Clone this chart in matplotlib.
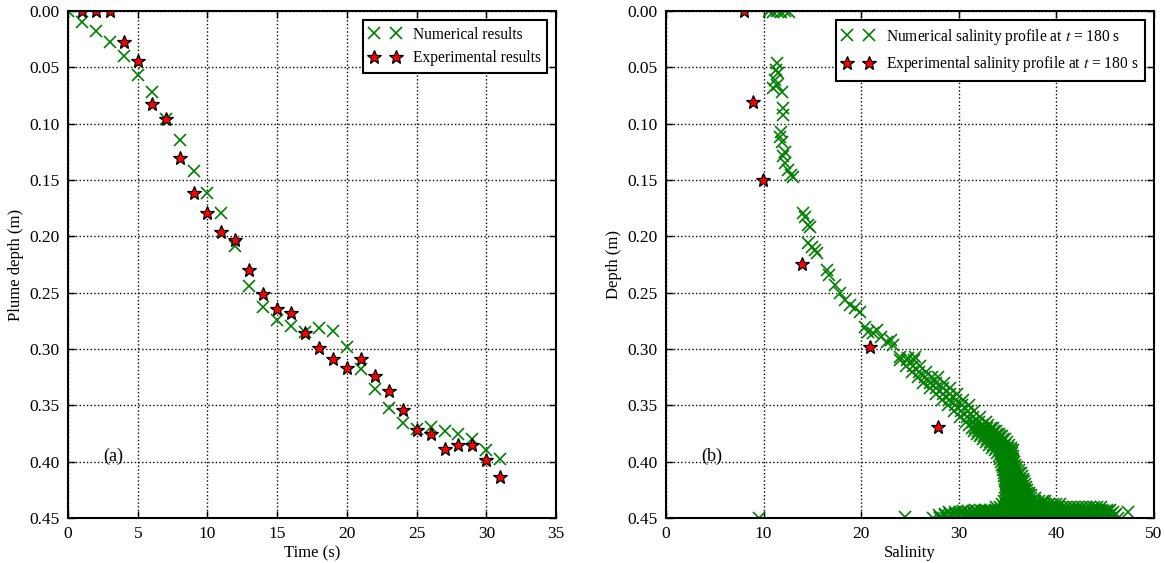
import matplotlib
matplotlib.use("Agg")
import matplotlib.pyplot as plt

plt.rcParams["font.family"] = ["Liberation Serif", "DejaVu Serif"]
plt.rcParams["mathtext.fontset"] = "stix"
plt.rcParams["font.size"] = 11

# (a) plume depth vs time
num_time = list(range(0, 32))
num_depth = [0.0, 0.010, 0.0175, 0.0275, 0.040, 0.057, 0.072, 0.0956, 0.1145, 0.1417,
             0.1615, 0.179, 0.209, 0.244, 0.263, 0.2743, 0.280, 0.285, 0.281, 0.2837,
             0.298, 0.318, 0.3355, 0.3526, 0.3654, 0.371, 0.3696, 0.3728, 0.375, 0.380,
             0.3896, 0.3976]
exp_time = list(range(1, 32))
exp_depth = [0.0, 0.0, 0.0, 0.0275, 0.0444, 0.0825, 0.0956, 0.1305, 0.1615, 0.179,
             0.196, 0.203, 0.230, 0.2515, 0.2645, 0.2683, 0.2855, 0.2994, 0.309, 0.3166,
             0.309, 0.3237, 0.337, 0.354, 0.372, 0.375, 0.3888, 0.385, 0.385, 0.3988,
             0.4133]

# (b) salinity profile at t = 180 s
exp_sal = [8.0, 8.9, 9.9, 13.9, 20.9, 27.9]
exp_sal_depth = [0.0, 0.0805, 0.150, 0.2243, 0.2985, 0.369]

num_sal = []
num_sal_depth = []

# upper part, read point by point
upper = [
    (10.6, 0.0), (11.0, 0.001), (11.4, 0.0), (11.8, 0.001), (12.2, 0.0), (12.6, 0.001),
    (11.34, 0.0464), (11.27, 0.0524), (11.5, 0.0553), (11.17, 0.0612), (11.34, 0.0657),
    (11.0, 0.0686), (11.86, 0.0716),
    (12.0, 0.0864), (11.95, 0.092), (11.8, 0.107), (11.7, 0.1116), (11.85, 0.116),
    (12.2, 0.125), (11.95, 0.129), (12.2, 0.135), (12.5, 0.141), (12.8, 0.1455),
    (13.0, 0.147),
    (14.07, 0.1796), (14.24, 0.1826), (14.58, 0.19), (14.75, 0.1915),
    (14.58, 0.2062), (14.93, 0.2092), (15.27, 0.2121), (15.44, 0.2151),
    (16.5, 0.2299), (16.7, 0.2343), (17.3, 0.2432), (17.8, 0.2506), (18.3, 0.2565),
    (18.85, 0.261), (19.4, 0.264), (19.9, 0.2669), (20.4, 0.2802), (20.7, 0.2846),
    (21.2, 0.286), (21.6, 0.283), (22.0, 0.289), (22.6, 0.2935), (23.1, 0.292),
    (23.3, 0.2965), (24.0, 0.3068), (24.8, 0.3083), (25.5, 0.3068),
    (9.5, 0.45), (24.5, 0.449), (28.1, 0.449), (47.3, 0.4445),
]
for s, d in upper:
    num_sal.append(s)
    num_sal_depth.append(d)

# dense band and bottom cloud, row by row (depth: salinities)
rows = {
    0.310: [24.0, 24.7, 25.4],
    0.315: [24.6, 25.3, 26.0],
    0.320: [25.2, 25.9, 26.6],
    0.325: [25.8, 26.5, 27.2, 27.9],
    0.330: [26.3, 27.0, 27.7, 28.5],
    0.335: [27.0, 27.7, 28.4, 29.1],
    0.340: [27.7, 28.4, 29.1, 29.8],
    0.345: [28.3, 29.0, 29.7, 30.4],
    0.350: [28.9, 29.6, 30.3, 31.0],
    0.355: [29.5, 30.2, 30.9, 31.6],
    0.360: [30.1, 30.8, 31.5, 32.2],
    0.365: [30.7, 31.4, 32.1, 32.8],
    0.3675: [31.0, 31.7, 32.4, 33.0],
    0.3700: [31.3, 31.7, 32.1, 32.5, 32.9, 33.3, 33.5],
    0.3725: [31.6, 32.0, 32.4, 32.8, 33.2, 33.6, 33.8],
    0.3750: [31.9, 32.3, 32.7, 33.1, 33.5, 33.9, 34.1],
    0.3775: [32.2, 32.6, 33.0, 33.4, 33.8, 34.2, 34.4],
    0.3800: [32.5, 32.9, 33.3, 33.7, 34.1, 34.5, 34.7],
    0.3825: [32.8, 33.2, 33.6, 34.0, 34.4, 34.9],
    0.3850: [33.1, 33.5, 33.9, 34.3, 34.7, 35.1],
    0.3875: [33.4, 33.8, 34.2, 34.6, 35.0, 35.3],
    0.3900: [33.7, 34.1, 34.5, 34.9, 35.3, 35.5],
    0.3925: [33.9, 34.3, 34.7, 35.1, 35.4],
    0.3950: [34.1, 34.5, 34.9, 35.3, 35.5],
    0.3975: [34.2, 34.6, 35.0, 35.4, 35.6],
    0.4000: [34.3, 34.7, 35.1, 35.5, 35.7],
    0.4025: [34.4, 34.6, 35.0, 35.4, 35.8],
    0.4050: [34.5, 34.9, 35.3, 35.7, 36.0],
    0.4075: [34.5, 34.7, 35.1, 35.5, 35.9, 36.2],
    0.4100: [34.6, 35.0, 35.4, 35.8, 36.2, 36.4],
    0.4125: [34.6, 34.8, 35.2, 35.6, 36.0, 36.5],
    0.4150: [34.7, 35.1, 35.5, 35.9, 36.3, 36.6],
    0.4175: [34.7, 34.9, 35.3, 35.7, 36.1, 36.5, 36.7],
    0.4200: [34.8, 35.2, 35.6, 36.0, 36.4, 36.8],
    0.4225: [34.8, 35.0, 35.4, 35.8, 36.2, 36.6, 36.9],
    0.4250: [34.8, 35.2, 35.6, 36.0, 36.4, 36.8, 37.0],
    0.4275: [34.8, 35.0, 35.4, 35.8, 36.2, 36.6, 37.0, 37.2],
    0.4300: [34.8, 35.2, 35.6, 36.0, 36.4, 36.8, 37.2, 37.4],
    0.4325: [34.7, 35.0, 35.4, 35.8, 36.2, 36.6, 37.0, 37.4, 37.8],
    0.4350: [34.6, 35.0, 35.4, 35.8, 36.2, 36.6, 37.0, 37.4, 37.8, 38.2, 38.6, 38.8],
    0.4375: [34.4, 34.8, 35.2, 35.6, 36.0, 36.4, 36.8, 37.2, 37.6, 38.0, 38.4, 38.8,
             39.2, 39.6, 40.0, 40.4],
    0.4400: [33.8, 34.2, 34.6, 35.0, 35.4, 35.8, 36.2, 36.6, 37.0, 37.4, 37.8, 38.2,
             38.6, 39.0, 39.4, 39.8, 40.2, 40.6, 41.0, 41.4, 41.8, 42.2, 42.6, 43.0,
             43.4, 43.8, 44.2, 44.6],
    0.4425: [31.7, 32.2, 32.7, 33.2, 33.7, 34.2, 34.7, 35.2, 35.7, 36.2, 36.7, 37.2,
             37.7, 38.2, 38.7, 39.2, 39.7, 40.2, 40.7, 41.2, 41.7, 42.2, 42.7, 43.2,
             43.7, 44.2, 44.7, 45.2, 45.5],
    0.4435: [30.4, 30.9, 31.4, 31.9, 32.4, 32.9, 33.4, 33.9, 34.4, 34.9, 35.4, 35.9,
             36.4, 36.9, 37.4, 37.9, 38.4, 38.9, 39.4, 39.9, 40.4, 40.9, 41.4, 41.9,
             42.4, 42.9, 43.4, 43.9, 44.4, 44.9, 45.4],
    0.445: [29.0, 29.6, 30.2, 30.8, 31.4, 32.0, 32.6, 33.2, 33.8, 34.4, 35.0, 35.6,
            36.2, 36.8, 37.4, 38.0, 38.6, 39.2, 39.8, 40.4, 41.0, 41.6, 42.2, 42.8,
            43.4, 44.0, 44.6, 45.2, 45.8],
    0.4465: [28.6, 29.1, 29.6, 30.1, 30.6, 31.1, 31.6, 32.1, 32.6, 33.1, 33.6, 34.1,
             34.6, 35.1, 35.6, 36.1, 36.6, 37.1, 37.6, 38.1, 38.6, 39.1, 39.6, 40.1,
             40.6, 41.1, 41.6, 42.1, 42.6, 43.1, 43.6, 44.1, 44.6, 45.1, 45.6, 46.1],
    0.4475: [28.0, 28.6, 29.2, 29.8, 30.4, 31.0, 31.6, 32.2, 32.8, 33.4, 34.0, 34.6,
             35.2, 35.8, 36.4, 37.0, 37.6, 38.2, 38.8, 39.4, 40.0, 40.6, 41.2, 41.8,
             42.4, 43.0, 43.6, 44.2, 44.8, 45.4, 46.0],
    0.450: [27.4, 28.1, 28.8, 29.5, 30.2, 30.9, 31.6, 32.3, 33.0, 33.7, 34.4, 35.1,
            35.8, 36.5, 37.2, 37.9, 38.6, 39.3, 40.0, 40.7, 41.4, 42.1, 42.8, 43.5,
            44.2, 44.9, 45.6, 46.3],
}
for d, sals in rows.items():
    for s in sals:
        num_sal.append(s)
        num_sal_depth.append(d)

green = (0, 0.5, 0)
x_style = dict(linestyle="none", marker="x", color=green, markersize=9, markeredgewidth=1.2)
star_style = dict(linestyle="none", marker="*", markerfacecolor="red",
                  markeredgecolor="black", markersize=10, markeredgewidth=0.9)

fig = plt.figure(figsize=(11.65, 5.63), dpi=100)
ax1 = fig.add_axes([0.0584, 0.0799, 0.4189, 0.9005])
ax2 = fig.add_axes([0.5717, 0.0799, 0.4189, 0.9005])


def style_axes(ax):
    for sp in ax.spines.values():
        sp.set_linewidth(1.5)
    ax.tick_params(direction="in", top=True, right=True, length=5, width=1,
                   labelsize=12.5, pad=6)
    ax.grid(True, color="black", linestyle=":", linewidth=1)
    ax.set_ylim(0.45, 0.0)
    ax.set_yticks([0.0, 0.05, 0.1, 0.15, 0.2, 0.25, 0.3, 0.35, 0.4, 0.45])
    ax.set_yticklabels(["0.00", "0.05", "0.10", "0.15", "0.20", "0.25", "0.30",
                        "0.35", "0.40", "0.45"])


ax1.plot(num_time, num_depth, label="Numerical results", **x_style)
ax1.plot(exp_time, exp_depth, label="Experimental results", **star_style)
ax1.set_xlim(0, 35)
style_axes(ax1)
ax1.set_xlabel("Time (s)", fontsize=12, labelpad=2)
ax1.set_ylabel("Plume depth (m)", fontsize=12)
ax1.text(2.5, 0.395, "(a)", fontsize=13, va="center")
leg1 = ax1.legend(loc="upper right", numpoints=2, fancybox=False, framealpha=1,
                  edgecolor="black", fontsize=11.2, borderaxespad=0.6)
leg1.get_frame().set_linewidth(1.5)

ax2.plot(num_sal, num_sal_depth, label=r"Numerical salinity profile at $t$ = 180 s", **x_style)
ax2.plot(exp_sal, exp_sal_depth, label=r"Experimental salinity profile at $t$ = 180 s",
         **star_style)
ax2.set_xlim(0, 50)
style_axes(ax2)
ax2.set_xlabel("Salinity", fontsize=12, labelpad=2)
ax2.set_ylabel("Depth (m)", fontsize=12)
ax2.text(3.6, 0.395, "(b)", fontsize=13, va="center")
leg2 = ax2.legend(loc="upper right", numpoints=2, fancybox=False, framealpha=1,
                  edgecolor="black", fontsize=11.2, borderaxespad=0.6)
leg2.get_frame().set_linewidth(1.5)

fig.savefig("out.png", dpi=100)
